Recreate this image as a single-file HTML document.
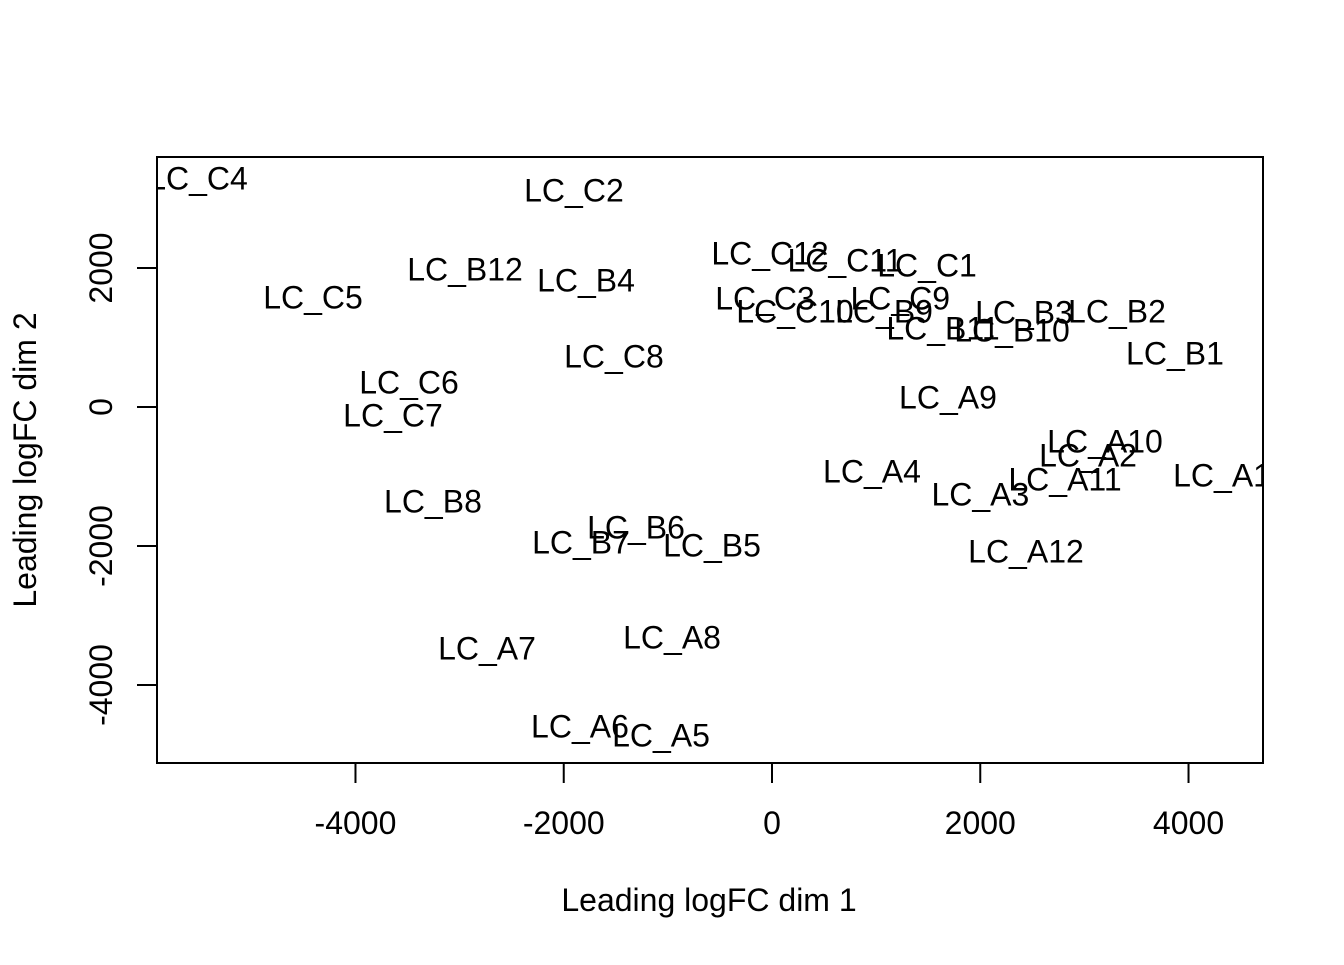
<!DOCTYPE html>
<html><head><meta charset="utf-8"><style>
html,body{margin:0;padding:0;background:#fff}
text{font-family:"Liberation Sans",Arial,sans-serif;font-size:32px;fill:#000}
</style></head><body>
<svg id="chart" width="1344" height="960" viewBox="0 0 1344 960" xmlns="http://www.w3.org/2000/svg">
<defs><clipPath id="clip"><rect x="157" y="157" width="1106" height="606"/></clipPath></defs>
<rect x="157" y="157" width="1106" height="606" fill="none" stroke="#000" stroke-width="2"/>
<g id="xaxis"></g>
<g id="yaxis"></g>
<g id="pts" clip-path="url(#clip)"></g>
<text x="709" y="911" text-anchor="middle">Leading logFC dim 1</text>
<text transform="translate(36,460) rotate(-90)" text-anchor="middle">Leading logFC dim 2</text>
</svg>
<script>
const labels=["LC_C4","LC_C2","LC_C12","LC_C11","LC_C1","LC_B12","LC_B4","LC_C5","LC_C3","LC_C10","LC_C9","LC_B9","LC_B3","LC_B2","LC_B11","LC_B10","LC_B1","LC_C8","LC_C6","LC_A9","LC_C7","LC_A10","LC_A2","LC_A4","LC_A1","LC_A11","LC_A3","LC_B8","LC_B6","LC_B7","LC_B5","LC_A12","LC_A8","LC_A7","LC_A6","LC_A5"];
const dim1=[-5512,-1902,-19,701,1489,-2948,-1786,-4408,-67,221,1232,1076,2420,3313,1642,2305,3870,-1518,-3486,1690,-3640,3198,3035,960,4322,2814,2001,-3256,-1306,-1834,-576,2439,-960,-2737,-1844,-1066];
const dim2=[3295,3122,2216,2115,2043,1986,1827,1583,1568,1381,1568,1381,1367,1381,1137,1108,777,734,360,144,-115,-490,-691,-921,-978,-1036,-1252,-1353,-1727,-1942,-1986,-2072,-3309,-3468,-4590,-4719];
const xTicks=[-4000,-2000,0,2000,4000];
const yTicks=[-4000,-2000,0,2000];
const NS="http://www.w3.org/2000/svg";
const sx=v=>772+v*0.10413;
const sy=v=>407-v*0.0695;
function mk(tag,attrs,parent){const e=document.createElementNS(NS,tag);for(const k in attrs)e.setAttribute(k,attrs[k]);parent.appendChild(e);return e;}
const xa=document.getElementById('xaxis'),ya=document.getElementById('yaxis'),pts=document.getElementById('pts');
mk('line',{x1:sx(-4000),x2:sx(4000),y1:763,y2:763,stroke:'#000','stroke-width':2},xa);
xTicks.forEach(t=>{
 const l=mk('line',{x1:sx(t),x2:sx(t),y1:763,y2:783,stroke:'#000','stroke-width':2},xa);
 
 
 const tx=mk('text',{x:sx(t),y:834,'text-anchor':'middle'},xa);tx.textContent=t;
 
 
});
mk('line',{x1:157,x2:157,y1:sy(-4000),y2:sy(2000),stroke:'#000','stroke-width':2},ya);
yTicks.forEach(t=>{
 const l=mk('line',{x1:137,x2:157,y1:sy(t),y2:sy(t),stroke:'#000','stroke-width':2},ya);
 
 
 const tx=mk('text',{transform:`translate(112,${sy(t)}) rotate(-90)`,'text-anchor':'middle'},ya);tx.textContent=t;
 
 
});
labels.forEach((s,i)=>{
 const tx=mk('text',{x:sx(dim1[i]),y:sy(dim2[i])+11.5,'text-anchor':'middle'},pts);tx.textContent=s;
 
 
});
</script>
</body></html>
